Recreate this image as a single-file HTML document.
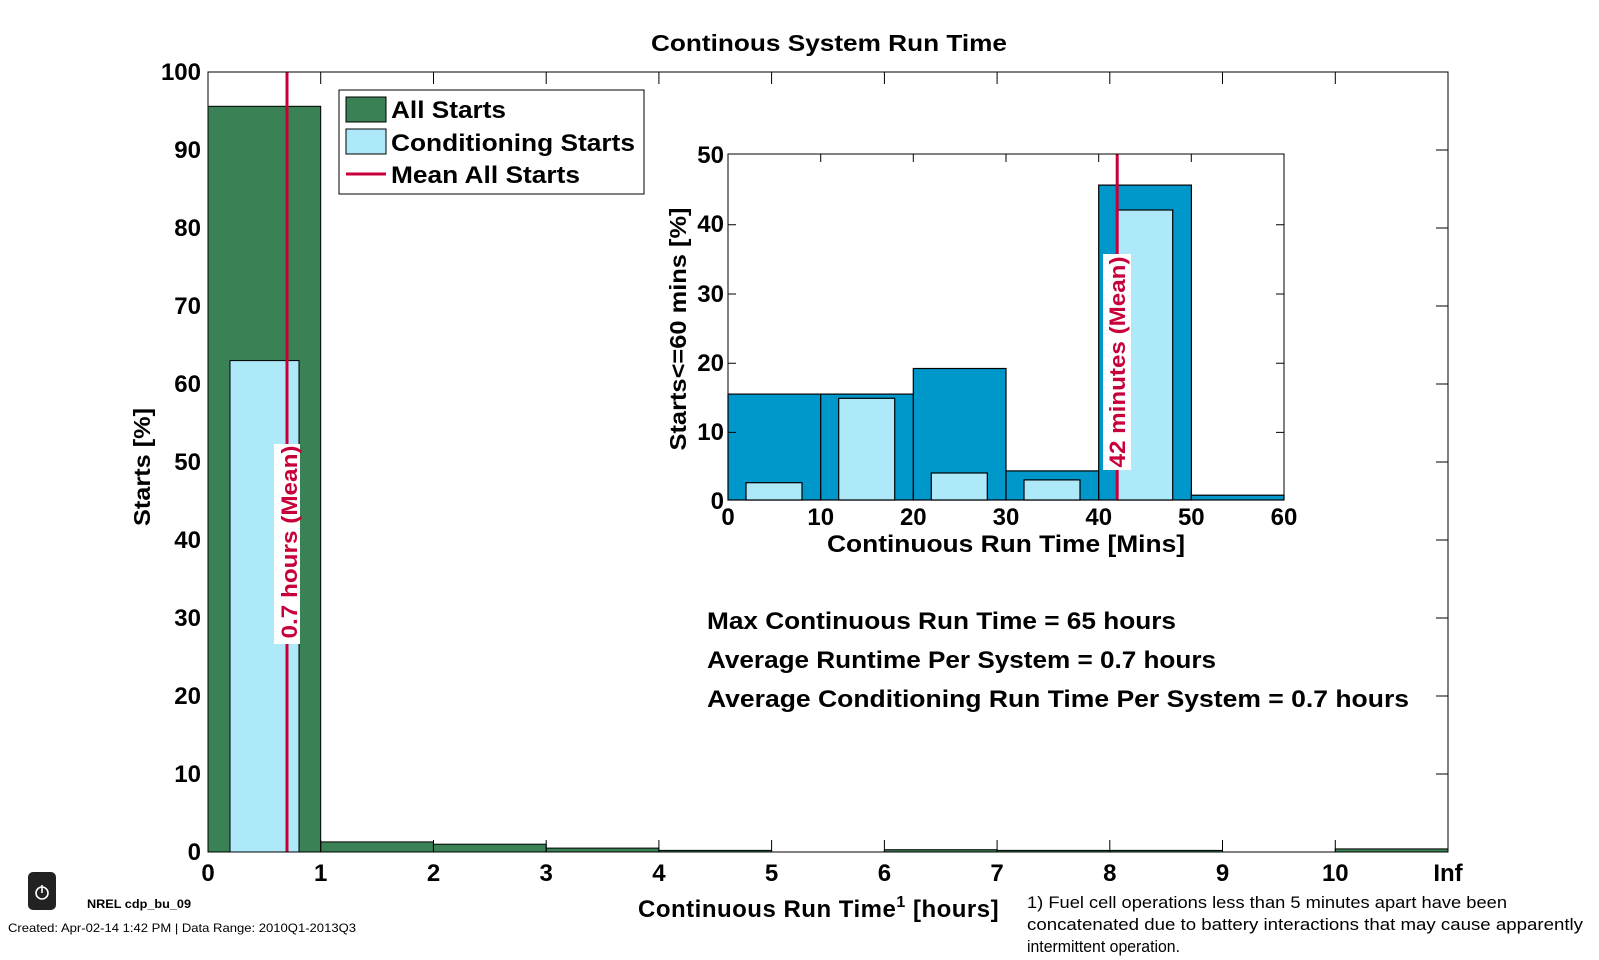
<!DOCTYPE html>
<html><head><meta charset="utf-8"><style>
html,body{margin:0;padding:0;background:#fff;}
svg{display:block;font-family:"Liberation Sans",Arial,sans-serif;}
</style></head><body>
<svg width="1599" height="960" viewBox="0 0 1599 960" xmlns="http://www.w3.org/2000/svg">
<rect width="1599" height="960" fill="#fff"/>
<text x="829" y="51" font-size="23" font-weight="bold" text-anchor="middle" textLength="356" lengthAdjust="spacingAndGlyphs">Continous System Run Time</text>
<g stroke="#000" stroke-width="1">
<rect x="208" y="106.3" width="112.7" height="745.7" fill="#3a8156"/>
<rect x="230" y="360.6" width="69" height="491.4" fill="#aee9fa"/>
<rect x="320.7" y="841.9" width="112.7" height="10.1" fill="#3a8156"/>
<rect x="433.5" y="844.2" width="112.7" height="7.8" fill="#3a8156"/>
<rect x="546.2" y="848.1" width="112.7" height="3.9" fill="#3a8156"/>
<rect x="658.9" y="850.4" width="112.7" height="1.6" fill="#3a8156"/>
<rect x="884.4" y="849.7" width="112.7" height="2.3" fill="#3a8156"/>
<rect x="997.1" y="850.4" width="112.7" height="1.6" fill="#3a8156"/>
<rect x="1109.8" y="850.4" width="112.7" height="1.6" fill="#3a8156"/>
<rect x="1335.3" y="848.9" width="112.7" height="3.1" fill="#3a8156"/>
</g>
<line x1="287" y1="72" x2="287" y2="852" stroke="#c8003a" stroke-width="3"/>
<rect x="274" y="444" width="26" height="200" fill="#fff"/>
<text transform="translate(297,542) rotate(-90)" font-size="22" font-weight="bold" fill="#c8003a" text-anchor="middle" textLength="193" lengthAdjust="spacingAndGlyphs">0.7 hours (Mean)</text>
<rect x="208" y="72" width="1240" height="780" fill="none" stroke="#000" stroke-width="1"/>
<g stroke="#000" stroke-width="1">
<path d="M320.7 852v-12M433.5 852v-12M546.2 852v-12M658.9 852v-12M771.6 852v-12M884.4 852v-12M997.1 852v-12M1109.8 852v-12M1222.5 852v-12M1335.3 852v-12"/>
<path d="M320.7 72v12M433.5 72v12M546.2 72v12M658.9 72v12M771.6 72v12M884.4 72v12M997.1 72v12M1109.8 72v12M1222.5 72v12M1335.3 72v12"/>
<path d="M1436 150h12M1436 228h12M1436 306h12M1436 384h12M1436 462h12M1436 540h12M1436 618h12M1436 696h12M1436 774h12"/>
</g>
<g font-size="24" font-weight="bold" text-anchor="end">
<text x="201" y="80">100</text><text x="201" y="158">90</text><text x="201" y="236">80</text><text x="201" y="314">70</text><text x="201" y="392">60</text><text x="201" y="470">50</text><text x="201" y="548">40</text><text x="201" y="626">30</text><text x="201" y="704">20</text><text x="201" y="782">10</text><text x="201" y="860">0</text>
</g>
<g font-size="24" font-weight="bold" text-anchor="middle">
<text x="208" y="881">0</text><text x="320.7" y="881">1</text><text x="433.5" y="881">2</text><text x="546.2" y="881">3</text><text x="658.9" y="881">4</text><text x="771.6" y="881">5</text><text x="884.4" y="881">6</text><text x="997.1" y="881">7</text><text x="1109.8" y="881">8</text><text x="1222.5" y="881">9</text><text x="1335.3" y="881">10</text><text x="1448" y="881">Inf</text>
</g>
<text transform="translate(150,467) rotate(-90)" font-size="23" font-weight="bold" text-anchor="middle" textLength="118" lengthAdjust="spacingAndGlyphs">Starts [%]</text>
<text x="638" y="917" font-size="24" font-weight="bold" letter-spacing="0.5">Continuous Run Time<tspan font-size="16" dy="-10">1</tspan><tspan dy="10"> [hours]</tspan></text>
<g font-size="17">
<text x="1027" y="908" textLength="480" lengthAdjust="spacingAndGlyphs">1) Fuel cell operations less than 5 minutes apart have been</text>
<text x="1027" y="930" textLength="556" lengthAdjust="spacingAndGlyphs">concatenated due to battery interactions that may cause apparently</text>
<text x="1027" y="952" textLength="153" lengthAdjust="spacingAndGlyphs">intermittent operation.</text>
</g>
<rect x="339" y="90" width="305" height="104" fill="#fff" stroke="#000"/>
<rect x="346" y="97" width="40" height="25" fill="#3a8156" stroke="#000"/>
<rect x="346" y="129" width="40" height="25" fill="#aee9fa" stroke="#000"/>
<line x1="346" y1="174" x2="386" y2="174" stroke="#c8003a" stroke-width="3"/>
<g font-size="24" font-weight="bold">
<text x="391" y="118" textLength="115" lengthAdjust="spacingAndGlyphs">All Starts</text>
<text x="391" y="151" textLength="244" lengthAdjust="spacingAndGlyphs">Conditioning Starts</text>
<text x="391" y="183" textLength="189" lengthAdjust="spacingAndGlyphs">Mean All Starts</text>
</g>
<rect x="728" y="154" width="556" height="346" fill="#fff"/>
<g stroke="#000" stroke-width="1.2">
<rect x="728" y="394.1" width="92.7" height="105.9" fill="#0097cb"/>
<rect x="820.7" y="394.1" width="92.7" height="105.9" fill="#0097cb"/>
<rect x="913.3" y="368.5" width="92.7" height="131.5" fill="#0097cb"/>
<rect x="1006" y="470.9" width="92.7" height="29.1" fill="#0097cb"/>
<rect x="1098.7" y="185.1" width="92.7" height="314.9" fill="#0097cb"/>
<rect x="1191.3" y="495.2" width="92.7" height="4.8" fill="#0097cb"/>
<rect x="746" y="482.7" width="56" height="17.3" fill="#aee9fa"/>
<rect x="838.7" y="398.3" width="56" height="101.7" fill="#aee9fa"/>
<rect x="931.3" y="473" width="56" height="27" fill="#aee9fa"/>
<rect x="1024" y="479.9" width="56" height="20.1" fill="#aee9fa"/>
<rect x="1116.7" y="210" width="56" height="290" fill="#aee9fa"/>
</g>
<line x1="1117.2" y1="154" x2="1117.2" y2="500" stroke="#c8003a" stroke-width="3"/>
<rect x="1103" y="254" width="28" height="216" fill="#fff"/>
<text transform="translate(1125,362) rotate(-90)" font-size="22" font-weight="bold" fill="#c8003a" text-anchor="middle" textLength="211" lengthAdjust="spacingAndGlyphs">42 minutes (Mean)</text>
<rect x="728" y="154" width="556" height="346" fill="none" stroke="#000"/>
<g stroke="#000" stroke-width="1">
<path d="M820.7 500v-8M913.3 500v-8M1006 500v-8M1098.7 500v-8M1191.3 500v-8M820.7 154v8M913.3 154v8M1006 154v8M1098.7 154v8M1191.3 154v8"/>
<path d="M728 224.8h8M728 294h8M728 363.2h8M728 432.4h8M1284 224.8h-8M1284 294h-8M1284 363.2h-8M1284 432.4h-8"/>
</g>
<g font-size="24" font-weight="bold" text-anchor="end">
<text x="724" y="163">50</text><text x="724" y="232">40</text><text x="724" y="302">30</text><text x="724" y="371">20</text><text x="724" y="440">10</text><text x="724" y="509">0</text>
</g>
<g font-size="24" font-weight="bold" text-anchor="middle">
<text x="728" y="525">0</text><text x="820.7" y="525">10</text><text x="913.3" y="525">20</text><text x="1006" y="525">30</text><text x="1098.7" y="525">40</text><text x="1191.3" y="525">50</text><text x="1284" y="525">60</text>
</g>
<text x="827" y="552" font-size="24" font-weight="bold" textLength="358" lengthAdjust="spacingAndGlyphs">Continuous Run Time [Mins]</text>
<text transform="translate(686,329) rotate(-90)" font-size="23" font-weight="bold" text-anchor="middle" textLength="243" lengthAdjust="spacingAndGlyphs">Starts&lt;=60 mins [%]</text>
<g font-size="24" font-weight="bold">
<text x="707" y="629" textLength="469" lengthAdjust="spacingAndGlyphs">Max Continuous Run Time = 65 hours</text>
<text x="707" y="668" textLength="509" lengthAdjust="spacingAndGlyphs">Average Runtime Per System = 0.7 hours</text>
<text x="707" y="707" textLength="702" lengthAdjust="spacingAndGlyphs">Average Conditioning Run Time Per System  = 0.7 hours</text>
</g>
<rect x="28" y="872" width="28" height="38" rx="5" fill="#222"/>
<circle cx="42" cy="893" r="6" fill="none" stroke="#fff" stroke-width="1.6"/>
<line x1="42" y1="885" x2="42" y2="893" stroke="#fff" stroke-width="1.6"/>
<text x="87" y="908" font-size="11.5" font-weight="bold" textLength="104" lengthAdjust="spacingAndGlyphs">NREL cdp_bu_09</text>
<text x="8" y="932" font-size="12" textLength="348" lengthAdjust="spacingAndGlyphs">Created: Apr-02-14  1:42 PM | Data Range: 2010Q1-2013Q3</text>
</svg>
</body></html>
